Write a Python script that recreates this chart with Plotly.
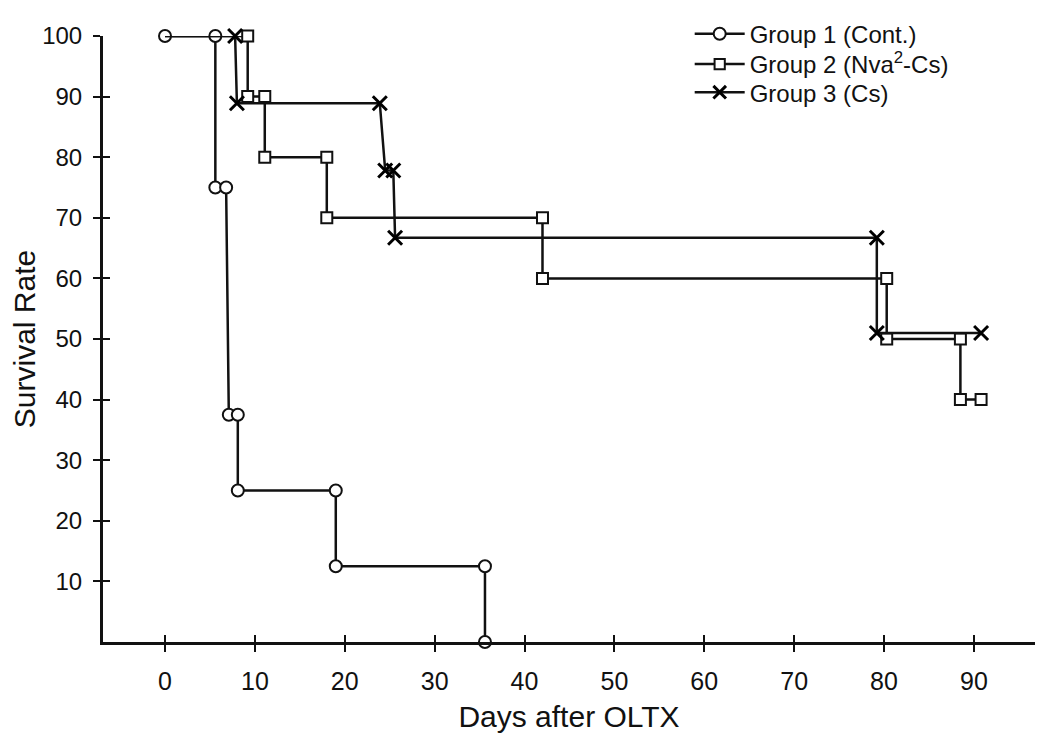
import plotly.graph_objects as go

# Group 1 (Cont.) - corner points of the Kaplan-Meier style step curve
g1_days = [0, 5.6, 5.6, 6.8, 7.1, 8.1, 8.1, 19.0, 19.0, 35.6, 35.6]
g1_rate = [100, 100, 75, 75, 37.5, 37.5, 25, 25, 12.5, 12.5, 0]

# Group 2 (Nva2-Cs)
g2_days = [0, 9.2, 9.2, 11.1, 11.1, 18.0, 18.0, 42.0, 42.0, 80.3, 80.3, 88.5, 88.5, 90.8]
g2_rate = [100, 100, 90, 90, 80, 80, 70, 70, 60, 60, 50, 50, 40, 40]

# Group 3 (Cs)
g3_days = [0, 7.8, 8.0, 23.9, 24.5, 25.4, 25.6, 79.2, 79.2, 90.8]
g3_rate = [100, 100, 88.9, 88.9, 77.8, 77.8, 66.7, 66.7, 51, 51]

x_ticks = [0, 10, 20, 30, 40, 50, 60, 70, 80, 90]
y_ticks = [10, 20, 30, 40, 50, 60, 70, 80, 90, 100]

names = ["Group 1 (Cont.)", "Group 2 (Nva<sup>2</sup>-Cs)", "Group 3 (Cs)"]

FONT = "Liberation Sans, Arial, Helvetica, sans-serif"
BLACK = "#111111"

fig = go.Figure()

def sizes(n, first_hidden, s):
    return [0 if (first_hidden and i == 0) else s for i in range(n)]

fig.add_trace(go.Scatter(
    x=g1_days, y=g1_rate, name=names[0], mode="lines+markers", legend="legend",
    line=dict(color=BLACK, width=2.5),
    marker=dict(symbol="circle", size=sizes(len(g1_days), False, 12), color="#ffffff",
                opacity=1, line=dict(color=BLACK, width=2)),
    cliponaxis=False))
fig.add_trace(go.Scatter(
    x=g2_days, y=g2_rate, name=names[1], mode="lines+markers", legend="legend2",
    line=dict(color=BLACK, width=2.5),
    marker=dict(symbol="square", size=sizes(len(g2_days), True, 11), color="#ffffff",
                opacity=1, line=dict(color=BLACK, width=2)),
    cliponaxis=False))
fig.add_trace(go.Scatter(
    x=g3_days, y=g3_rate, name=names[2], mode="lines+markers", legend="legend3",
    line=dict(color=BLACK, width=2.5),
    marker=dict(symbol="x-thin", size=sizes(len(g3_days), True, 14), color="#000000",
                opacity=1, line=dict(color="#000000", width=3)),
    cliponaxis=False))

xr = [-6.9, 96.8]
yr = [0, 100]

leg_common = dict(x=0.6295, xanchor="left", yanchor="middle",
                  font=dict(size=24, family=FONT, color=BLACK),
                  bgcolor="rgba(0,0,0,0)", itemwidth=50)

fig.update_layout(
    width=1050, height=742,
    paper_bgcolor="white", plot_bgcolor="white",
    margin=dict(l=95, r=23, t=28, b=108, autoexpand=False),
    font=dict(family=FONT, color=BLACK, size=20),
    showlegend=True,
    legend=dict(y=1.003, **leg_common),
    legend2=dict(y=0.953, **leg_common),
    legend3=dict(y=0.9066, **leg_common),
    xaxis=dict(range=xr, tickvals=x_ticks, ticks="outside", ticklen=7, tickwidth=2,
               tickcolor=BLACK, showline=True, linecolor=BLACK, linewidth=3,
               showgrid=False, zeroline=False, ticklabelstandoff=8, automargin=False,
               tickfont=dict(family=FONT, size=25),
               title=dict(text="Days after OLTX", font=dict(size=30), standoff=12)),
    yaxis=dict(range=yr, tickvals=y_ticks, ticks="outside", ticklen=7, tickwidth=2,
               tickcolor=BLACK, showline=True, linecolor=BLACK, linewidth=3,
               showgrid=False, zeroline=False, ticklabelstandoff=6, automargin=False,
               tickfont=dict(size=24),
               title=dict(text="Survival Rate", font=dict(size=30), standoff=10)),
    xaxis2=dict(range=xr, tickvals=x_ticks, ticks="inside", ticklen=7, tickwidth=2,
                tickcolor=BLACK, overlaying="x", showticklabels=False,
                showgrid=False, zeroline=False, showline=False),
    yaxis2=dict(range=yr, tickvals=y_ticks, ticks="inside", ticklen=7, tickwidth=2,
                tickcolor=BLACK, overlaying="y", showticklabels=False,
                showgrid=False, zeroline=False, showline=False),
)

# invisible trace to activate the overlay axes carrying the inner tick halves
fig.add_trace(go.Scatter(x=[None], y=[None], xaxis="x2", yaxis="y2",
                         showlegend=False, hoverinfo="skip"))

fig.write_html("out.html")
